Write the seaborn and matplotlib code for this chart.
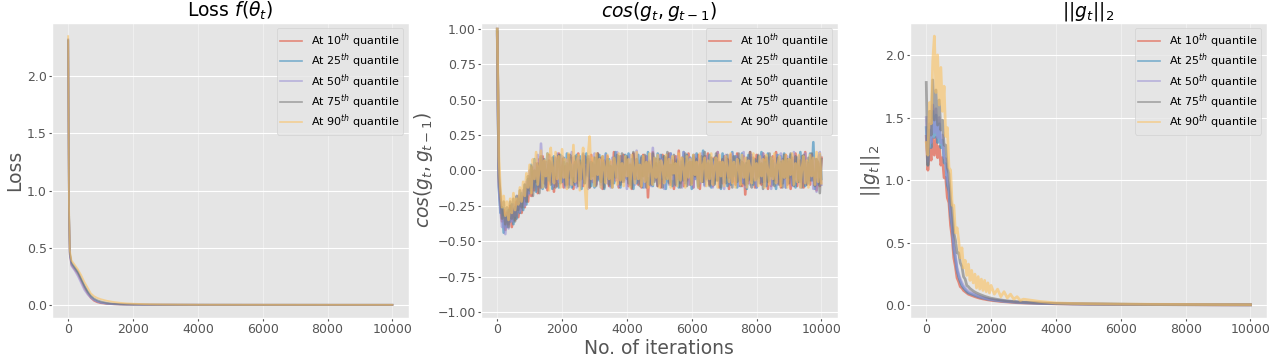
import numpy as np
import pandas as pd
import matplotlib
matplotlib.use('Agg')
import matplotlib.pyplot as plt
import seaborn as sns

# quantile labels and ggplot colours
quantiles = ['10', '25', '50', '75', '90']
colors = ['#E24A33', '#348ABD', '#988ED5', '#777777', '#FBC15E']

# ---- Loss f(theta_t) ----
loss_iters = [0, 25, 50, 100, 200, 300, 400, 500, 600, 700, 800, 900, 1000,
              1200, 1400, 1600, 1800, 2000, 2500, 3000, 4000, 5000, 6000,
              7000, 8000, 9000, 10000]
loss_10 = [2.31, 0.80, 0.44, 0.35, 0.31, 0.27, 0.21, 0.15, 0.10, 0.06, 0.035, 0.022, 0.015,
           0.008, 0.005, 0.003, 0.002, 0.002, 0.001, 0.001, 0.0005, 0.0004, 0.0003,
           0.0003, 0.0002, 0.0002, 0.0002]
loss_25 = [2.31, 0.82, 0.45, 0.36, 0.32, 0.28, 0.22, 0.16, 0.11, 0.07, 0.045, 0.030, 0.020,
           0.010, 0.006, 0.004, 0.003, 0.002, 0.001, 0.001, 0.0006, 0.0004, 0.0003,
           0.0003, 0.0002, 0.0002, 0.0002]
loss_50 = [2.32, 0.83, 0.44, 0.34, 0.30, 0.25, 0.19, 0.13, 0.09, 0.06, 0.040, 0.028, 0.020,
           0.011, 0.007, 0.005, 0.003, 0.002, 0.001, 0.001, 0.0006, 0.0004, 0.0003,
           0.0003, 0.0002, 0.0002, 0.0002]
loss_75 = [2.32, 0.84, 0.46, 0.37, 0.33, 0.29, 0.23, 0.17, 0.12, 0.08, 0.055, 0.040, 0.030,
           0.017, 0.010, 0.006, 0.004, 0.003, 0.002, 0.001, 0.0007, 0.0005, 0.0004,
           0.0003, 0.0003, 0.0002, 0.0002]
loss_90 = [2.35, 0.88, 0.48, 0.39, 0.35, 0.31, 0.26, 0.20, 0.15, 0.10, 0.075, 0.060, 0.050,
           0.035, 0.025, 0.018, 0.013, 0.010, 0.005, 0.003, 0.001, 0.0008, 0.0006,
           0.0005, 0.0004, 0.0003, 0.0003]

# ---- cos(g_t, g_{t-1}), one value every 50 iterations ----
cos_iters = list(range(0, 10001, 50))
cos_10 = [1.00, -0.08, -0.24, -0.36, -0.28, -0.42, -0.30, -0.38, -0.25, -0.40,
          -0.27, -0.35, -0.22, -0.33, -0.24, -0.30, -0.18, -0.26, -0.12, -0.22,
          -0.06, -0.18, 0.02, -0.14, 0.05, -0.16, 0.08, -0.12, 0.10, -0.09,
          0.06, -0.14, 0.11, -0.08, 0.04, -0.15, 0.09, -0.11, 0.12, -0.06,
          0.08, -0.12, 0.03, -0.10, 0.11, -0.05, 0.09, -0.13, 0.06, -0.09,
          0.12, -0.07, 0.05, -0.11, 0.10, -0.03, 0.08, -0.12, 0.11, -0.08,
          0.04, -0.10, 0.12, -0.06, 0.09, -0.13, 0.07, -0.04, 0.10, -0.11,
          0.06, -0.09, 0.13, -0.07, 0.03, -0.12, 0.10, -0.08, 0.11, -0.05,
          0.09, -0.11, 0.05, -0.13, 0.12, -0.06, 0.08, -0.10, 0.04, -0.12,
          0.11, -0.07, 0.10, -0.19, 0.06, -0.09, 0.13, -0.05, 0.08, -0.11,
          0.05, -0.12, 0.11, -0.08, 0.09, -0.04, 0.12, -0.10, 0.07, -0.13,
          0.10, -0.06, 0.14, -0.09, 0.04, -0.11, 0.08, -0.07, 0.12, -0.10,
          0.06, -0.12, 0.09, -0.05, 0.11, -0.13, 0.07, -0.08, 0.10, -0.04,
          0.12, -0.10, 0.05, -0.11, 0.09, -0.07, 0.13, -0.12, 0.06, -0.09,
          0.10, -0.05, 0.08, -0.13, 0.11, -0.08, 0.04, -0.10, 0.12, -0.06,
          0.07, -0.11, 0.10, -0.17, 0.05, -0.09, 0.13, -0.07, 0.09, -0.12,
          0.11, -0.04, 0.06, -0.10, 0.12, -0.08, 0.09, -0.13, 0.05, -0.11,
          0.10, -0.07, 0.13, -0.09, 0.04, -0.12, 0.08, -0.06, 0.11, -0.10,
          0.06, -0.13, 0.09, -0.05, 0.12, -0.11, 0.07, -0.08, 0.10, -0.12,
          0.13, -0.09, 0.05, -0.10, 0.11, -0.07, 0.08, -0.14, 0.06, -0.11,
          0.09]
cos_25 = [1.00, -0.12, -0.30, -0.26, -0.44, -0.32, -0.40, -0.28, -0.36, -0.24,
          -0.38, -0.26, -0.34, -0.20, -0.30, -0.16, -0.28, -0.10, -0.24, -0.06,
          -0.16, 0.04, -0.12, 0.08, -0.15, 0.02, -0.11, 0.09, -0.13, 0.06,
          -0.10, 0.12, -0.07, 0.05, -0.13, 0.10, -0.04, 0.08, -0.12, 0.11,
          -0.08, 0.06, -0.11, 0.12, -0.05, 0.09, -0.12, 0.04, -0.10, 0.11,
          -0.06, 0.10, -0.13, 0.07, -0.09, 0.12, -0.04, 0.08, -0.11, 0.05,
          -0.12, 0.09, -0.07, 0.11, -0.10, 0.05, -0.13, 0.12, -0.06, 0.08,
          -0.11, 0.04, -0.09, 0.13, -0.05, 0.10, -0.12, 0.07, -0.08, 0.11,
          -0.06, 0.12, -0.10, 0.08, -0.13, 0.05, -0.09, 0.11, -0.07, 0.10,
          -0.12, 0.06, -0.08, 0.13, -0.10, 0.04, -0.11, 0.09, -0.05, 0.12,
          -0.09, 0.11, -0.06, 0.10, -0.13, 0.07, -0.08, 0.12, -0.11, 0.05,
          -0.10, 0.08, -0.12, 0.06, -0.07, 0.13, -0.09, 0.11, -0.05, 0.09,
          -0.13, 0.10, -0.06, 0.12, -0.11, 0.04, -0.08, 0.14, -0.10, 0.07,
          -0.05, 0.11, -0.12, 0.08, -0.09, 0.10, -0.07, 0.05, -0.13, 0.12,
          -0.08, 0.09, -0.11, 0.06, -0.10, 0.13, -0.04, 0.10, -0.12, 0.08,
          -0.07, 0.12, -0.09, 0.05, -0.13, 0.11, -0.06, 0.09, -0.10, 0.07,
          -0.12, 0.10, -0.05, 0.13, -0.08, 0.06, -0.11, 0.12, -0.07, 0.09,
          -0.10, 0.05, -0.13, 0.11, -0.06, 0.10, -0.09, 0.12, -0.12, 0.08,
          -0.05, 0.11, -0.10, 0.07, -0.12, 0.09, -0.08, 0.13, -0.06, 0.10,
          -0.11, 0.06, -0.09, 0.12, -0.07, 0.20, -0.13, 0.08, -0.10, 0.11,
          -0.06]
cos_50 = [0.96, -0.10, -0.28, -0.40, -0.33, -0.45, -0.29, -0.41, -0.30, -0.36,
          -0.24, -0.32, -0.26, -0.18, -0.29, -0.20, -0.14, -0.25, -0.08, -0.17,
          0.00, -0.10, -0.14, 0.05, -0.06, 0.11, -0.12, 0.19, -0.03, 0.07,
          -0.12, 0.03, 0.10, -0.09, 0.06, -0.11, -0.02, 0.12, -0.08, 0.04,
          0.10, -0.07, -0.12, 0.08, 0.02, -0.10, 0.13, -0.04, 0.06, -0.12,
          0.09, -0.02, -0.11, 0.11, -0.06, 0.04, -0.13, 0.10, 0.01, -0.08,
          0.12, -0.10, 0.03, 0.08, -0.12, 0.06, -0.05, 0.11, -0.09, 0.02,
          -0.12, 0.09, 0.05, -0.07, 0.13, -0.11, 0.00, 0.10, -0.08, 0.07,
          -0.13, 0.04, 0.11, -0.06, 0.08, -0.10, 0.14, -0.03, -0.09, 0.09,
          0.05, -0.12, 0.10, -0.04, 0.07, -0.11, 0.16, -0.07, 0.02, -0.10,
          0.11, -0.05, 0.08, -0.13, 0.04, 0.09, -0.10, 0.12, -0.06, 0.03,
          -0.11, 0.10, -0.02, 0.07, -0.12, 0.13, -0.08, 0.05, -0.10, 0.09,
          0.01, -0.12, 0.11, -0.06, 0.08, -0.09, 0.12, -0.03, -0.11, 0.10,
          -0.07, 0.04, 0.09, -0.12, 0.06, -0.05, 0.13, -0.10, 0.02, 0.08,
          -0.13, 0.11, -0.04, 0.07, -0.09, 0.12, -0.07, 0.03, 0.10, -0.11,
          0.06, -0.08, 0.13, -0.12, 0.00, 0.09, -0.10, 0.11, -0.05, 0.07,
          -0.12, 0.04, 0.10, -0.08, 0.12, -0.11, 0.05, -0.03, 0.09, -0.13,
          0.08, -0.06, 0.11, -0.10, 0.03, 0.12, -0.09, 0.06, -0.12, 0.10,
          -0.04, 0.09, -0.11, 0.13, -0.07, 0.02, 0.10, -0.12, 0.07, -0.08,
          0.12, -0.10, 0.05, -0.06, 0.11, -0.13, 0.08, -0.15, 0.09, 0.13,
          -0.10]
cos_75 = [0.98, -0.04, -0.18, -0.34, -0.22, -0.38, -0.26, -0.40, -0.22, -0.34,
          -0.20, -0.36, -0.18, -0.28, -0.14, -0.26, -0.20, -0.10, -0.22, -0.04,
          -0.14, 0.03, -0.18, 0.00, -0.08, 0.05, -0.16, 0.10, -0.06, 0.08,
          -0.12, 0.00, 0.07, -0.10, 0.09, -0.05, -0.12, 0.06, 0.11, -0.09,
          0.02, 0.09, -0.10, 0.05, -0.12, 0.11, -0.03, -0.08, 0.10, 0.04,
          -0.11, 0.07, -0.06, 0.12, -0.09, 0.02, 0.10, -0.12, 0.06, -0.04,
          0.09, -0.11, 0.12, 0.01, -0.08, 0.10, -0.12, 0.05, 0.08, -0.10,
          0.03, -0.12, 0.09, -0.05, 0.11, 0.06, -0.10, 0.12, -0.07, 0.02,
          0.10, -0.09, 0.04, -0.12, 0.13, -0.06, 0.08, 0.02, -0.11, 0.09,
          -0.04, 0.11, -0.12, 0.06, 0.03, -0.10, 0.12, -0.08, 0.05, -0.11,
          0.08, 0.01, -0.12, 0.10, -0.06, 0.13, -0.09, 0.04, -0.03, 0.11,
          -0.10, 0.07, 0.02, -0.12, 0.09, -0.07, 0.12, -0.11, 0.05, 0.06,
          -0.09, 0.11, -0.04, 0.08, -0.12, 0.03, 0.10, -0.08, 0.13, -0.06,
          0.05, -0.11, 0.09, 0.00, -0.10, 0.12, -0.07, 0.06, -0.12, 0.08,
          0.03, -0.09, 0.11, -0.05, 0.07, -0.12, 0.10, -0.02, -0.08, 0.12,
          -0.11, 0.06, 0.04, -0.10, 0.09, -0.07, 0.13, -0.12, 0.02, 0.08,
          -0.06, 0.11, -0.09, 0.05, -0.13, 0.10, 0.03, -0.08, 0.12, -0.04,
          0.07, -0.11, 0.01, 0.09, -0.10, 0.06, -0.12, 0.11, -0.05, 0.08,
          -0.09, 0.12, -0.03, -0.11, 0.10, 0.04, -0.08, 0.07, -0.12, 0.11,
          0.02, -0.10, 0.09, -0.07, 0.12, -0.04, -0.11, 0.08, 0.05, -0.16,
          0.08]
cos_90 = [1.00, 0.10, -0.14, -0.26, -0.18, -0.32, -0.22, -0.35, -0.20, -0.30,
          -0.16, -0.28, -0.20, -0.24, -0.12, -0.22, -0.08, -0.18, -0.02, -0.12,
          0.04, -0.16, 0.08, -0.06, 0.13, -0.10, 0.02, 0.14, -0.12, 0.07,
          -0.04, 0.12, -0.14, 0.16, 0.00, -0.09, 0.13, -0.06, 0.10, -0.12,
          0.15, -0.05, 0.08, -0.13, 0.12, 0.03, -0.10, 0.18, -0.08, 0.06,
          0.11, -0.14, 0.04, 0.16, -0.09, -0.27, 0.10, 0.24, -0.06, 0.09,
          -0.11, 0.12, -0.03, 0.08, -0.12, 0.10, 0.02, -0.09, 0.11, -0.06,
          0.07, -0.12, 0.09, 0.03, -0.10, 0.12, -0.07, 0.05, -0.11, 0.10,
          -0.04, 0.08, -0.12, 0.11, 0.01, -0.09, 0.13, -0.06, 0.04, -0.11,
          0.10, -0.08, 0.06, -0.12, 0.12, 0.00, -0.10, 0.09, -0.05, 0.11,
          -0.12, 0.07, 0.03, -0.09, 0.11, -0.06, 0.08, -0.12, 0.10, -0.02,
          0.05, -0.11, 0.12, -0.07, 0.09, 0.02, -0.12, 0.10, -0.05, 0.08,
          -0.10, 0.11, -0.03, 0.06, -0.12, 0.12, -0.08, 0.04, 0.09, -0.11,
          0.07, -0.06, 0.12, -0.10, 0.03, 0.09, -0.12, 0.11, -0.04, 0.06,
          -0.11, 0.10, 0.01, -0.08, 0.12, -0.09, 0.06, -0.12, 0.08, 0.03,
          -0.10, 0.11, -0.05, 0.09, -0.12, 0.07, 0.02, -0.09, 0.12, -0.07,
          0.05, -0.11, 0.10, -0.04, 0.08, -0.12, 0.11, 0.00, -0.10, 0.09,
          -0.06, 0.12, -0.09, 0.04, 0.10, -0.11, 0.07, -0.05, 0.11, -0.12,
          0.08, -0.03, 0.12, -0.10, 0.05, -0.08, 0.11, -0.12, 0.02, 0.10,
          -0.09, 0.07, -0.12, 0.11, -0.04, 0.09, -0.10, 0.13, -0.08, 0.12,
          -0.09]

# ---- ||g_t||_2 ----
norm_iters = (list(range(0, 2001, 50)) + list(range(2100, 3001, 100))
              + [3500, 4000, 4500, 5000, 6000, 7000, 8000, 9000, 10000])
norm_10 = [1.35, 1.08, 1.25, 1.16, 1.33, 1.20, 1.34, 1.18, 1.27, 1.12,
           1.18, 1.02, 1.02, 0.86, 0.82, 0.64, 0.54, 0.38, 0.31, 0.22,
           0.19, 0.15, 0.14, 0.12, 0.11, 0.10, 0.09, 0.085, 0.08, 0.075,
           0.07, 0.066, 0.062, 0.058, 0.055, 0.052, 0.05, 0.047, 0.045, 0.043,
           0.041, 0.038, 0.035, 0.032, 0.03, 0.028, 0.026, 0.024, 0.022, 0.021,
           0.02, 0.016, 0.013, 0.011, 0.01, 0.008, 0.007, 0.006, 0.005, 0.005]
norm_25 = [1.42, 1.12, 1.40, 1.26, 1.55, 1.34, 1.52, 1.30, 1.45, 1.26,
           1.32, 1.14, 1.13, 0.96, 0.91, 0.72, 0.62, 0.45, 0.37, 0.28,
           0.23, 0.19, 0.16, 0.14, 0.125, 0.11, 0.10, 0.095, 0.09, 0.085,
           0.08, 0.075, 0.07, 0.066, 0.062, 0.059, 0.056, 0.053, 0.05, 0.048,
           0.046, 0.042, 0.039, 0.036, 0.033, 0.031, 0.029, 0.027, 0.025, 0.023,
           0.022, 0.017, 0.014, 0.012, 0.011, 0.009, 0.007, 0.006, 0.006, 0.005]
norm_50 = [1.50, 1.15, 1.45, 1.30, 1.60, 1.38, 1.57, 1.34, 1.50, 1.30,
           1.36, 1.18, 1.17, 1.00, 0.95, 0.76, 0.66, 0.48, 0.40, 0.30,
           0.25, 0.21, 0.18, 0.155, 0.14, 0.125, 0.115, 0.105, 0.10, 0.094,
           0.088, 0.082, 0.077, 0.072, 0.068, 0.064, 0.06, 0.057, 0.054, 0.051,
           0.049, 0.045, 0.041, 0.038, 0.035, 0.033, 0.031, 0.029, 0.027, 0.025,
           0.023, 0.018, 0.015, 0.013, 0.011, 0.009, 0.008, 0.007, 0.006, 0.005]
norm_75 = [1.78, 1.12, 1.55, 1.36, 1.80, 1.48, 1.72, 1.44, 1.64, 1.40,
           1.48, 1.28, 1.28, 1.10, 1.05, 0.85, 0.76, 0.58, 0.52, 0.42,
           0.42, 0.34, 0.31, 0.23, 0.21, 0.16, 0.15, 0.135, 0.125, 0.115,
           0.107, 0.10, 0.094, 0.088, 0.083, 0.078, 0.073, 0.069, 0.065, 0.061,
           0.058, 0.053, 0.048, 0.044, 0.04, 0.037, 0.034, 0.032, 0.03, 0.028,
           0.026, 0.02, 0.016, 0.014, 0.012, 0.01, 0.008, 0.007, 0.006, 0.006]
norm_90 = [1.30, 1.20, 1.62, 1.45, 1.95, 2.15, 1.70, 2.00, 1.60, 1.90,
           1.55, 1.75, 1.35, 1.42, 1.10, 1.08, 0.80, 0.80, 0.58, 0.62,
           0.52, 0.38, 0.46, 0.30, 0.36, 0.24, 0.33, 0.20, 0.28, 0.18,
           0.25, 0.14, 0.23, 0.13, 0.21, 0.12, 0.20, 0.11, 0.18, 0.10,
           0.16, 0.09, 0.13, 0.07, 0.11, 0.06, 0.09, 0.05, 0.07, 0.04,
           0.05, 0.032, 0.02, 0.016, 0.014, 0.011, 0.009, 0.008, 0.007, 0.006]

panels = [
    (loss_iters, [loss_10, loss_25, loss_50, loss_75, loss_90],
     r'Loss $f(\theta_t)$', 'Loss', [0.0, 0.5, 1.0, 1.5, 2.0], None, 1.3),
    (cos_iters, [cos_10, cos_25, cos_50, cos_75, cos_90],
     r'$cos(g_t, g_{t-1})$', r'$cos(g_t, g_{t-1})$',
     [-1.0, -0.75, -0.5, -0.25, 0.0, 0.25, 0.5, 0.75, 1.0], (-1.045, 1.045), 1.9),
    (norm_iters, [norm_10, norm_25, norm_50, norm_75, norm_90],
     r'$||g_t||_2$', r'$||g_t||_2$', [0.0, 0.5, 1.0, 1.5, 2.0], None, 2.0),
]


def main():
    plt.style.use('ggplot')
    plt.rcParams['font.family'] = ['DejaVu Sans']

    fig, axes = plt.subplots(1, 3, figsize=(12.8, 3.58), dpi=100)
    fig.subplots_adjust(left=0.0406, right=0.9896, top=0.9366, bottom=0.111,
                        wspace=0.203)

    for ax, (iters, series, title, ylabel, yticks, ylim, lw) in zip(axes, panels):
        for q, vals, c in zip(quantiles, series, colors):
            df = pd.DataFrame({'iteration': iters, 'value': vals})
            sns.lineplot(data=df, x='iteration', y='value', ax=ax, color=c,
                         alpha=0.6, linewidth=lw,
                         label=rf'At ${q}^{{th}}$ quantile')
        ax.set_title(title, fontsize=13.5, pad=4)
        ax.set_ylabel(ylabel, fontsize=13.5, labelpad=2)
        ax.set_xlabel('')
        ax.set_yticks(yticks)
        if ylim is not None:
            ax.set_ylim(*ylim)
        ax.set_xticks([0, 2000, 4000, 6000, 8000, 10000])
        ax.tick_params(labelsize=9, length=2, pad=1.6)
        ax.grid(axis='x', alpha=0.4)
        leg = ax.legend(loc='upper right', fontsize=8, labelspacing=0.15,
                        borderpad=0.3)
        for line in leg.get_lines():
            line.set_linewidth(1.2)

    axes[1].set_xlabel('No. of iterations', fontsize=13.5, labelpad=2)

    fig.savefig('out.png', dpi=100)
    plt.close(fig)


if __name__ == "__main__":
    main()
